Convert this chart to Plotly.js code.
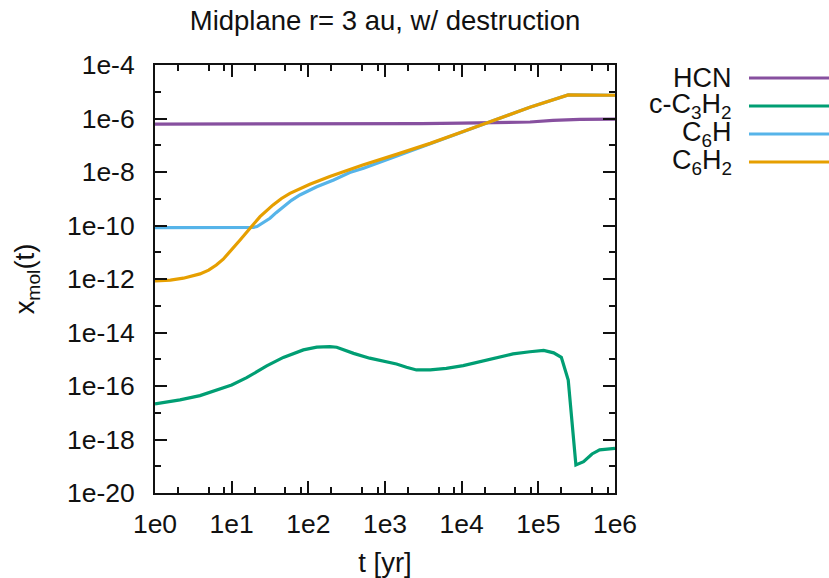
<!DOCTYPE html>
<html>
<head>
<meta charset="utf-8">
<script src="https://cdn.plot.ly/plotly-3.0.1.min.js"></script>
<style>
  html, body { margin: 0; padding: 0; background: #fff; }
  #chart { width: 829px; height: 578px; }
</style>
</head>
<body>
<div id="chart"></div>
<script>
// Time grid (years) and abundances, given as log10 values per species
const hcnT    = [1, 10, 100, 1000, 3000, 1e4, 3e4, 7.8e4, 1.55e5, 3.5e5, 1e6];
const hcnLog  = [-6.21, -6.21, -6.21, -6.20, -6.19, -6.17, -6.15, -6.13, -6.07, -6.03, -6.02];

const c3h2LogT = [0, 0.326, 0.587, 0.80, 1.0, 1.196, 1.457, 1.674, 1.935, 2.11, 2.28, 2.37,
                  2.59, 2.8, 2.98, 3.15, 3.28, 3.41, 3.59, 3.80, 4.02, 4.24, 4.46, 4.67,
                  4.89, 5.07, 5.20, 5.30, 5.39, 5.49, 5.59, 5.70, 5.80, 6.0];
const c3h2Log  = [-16.67, -16.52, -16.36, -16.15, -15.96, -15.69, -15.25, -14.93, -14.65, -14.55, -14.53, -14.55,
                  -14.78, -14.96, -15.07, -15.18, -15.30, -15.40, -15.40, -15.34, -15.24, -15.09, -14.93, -14.80,
                  -14.72, -14.67, -14.76, -14.93, -15.78, -18.95, -18.83, -18.54, -18.39, -18.33];

const c6hLogT = [0, 0.5, 1.0, 1.2, 1.28, 1.33, 1.42, 1.50, 1.58, 1.674, 1.78, 1.89, 2.0, 2.11, 2.33, 2.54, 2.72,
                 3.15, 3.59, 4.02, 4.46, 4.89, 5.39, 6.0];
const c6hLog  = [-10.08, -10.08, -10.08, -10.08, -10.07, -10.04, -9.88, -9.73, -9.52, -9.29, -9.06, -8.86, -8.70, -8.55,
                 -8.30, -8.02, -7.86, -7.40, -6.95, -6.50, -6.03, -5.58, -5.12, -5.13];

const c6h2LogT = [0, 0.2, 0.37, 0.587, 0.70, 0.80, 0.89, 0.98, 1.04, 1.11, 1.24, 1.37, 1.54, 1.65, 1.76, 1.89,
                  2.02, 2.28, 2.54, 2.71, 3.15, 3.59, 4.02, 4.46, 4.89, 5.39, 6.0];
const c6h2Log  = [-12.07, -12.04, -11.97, -11.81, -11.67, -11.48, -11.26, -10.98, -10.77, -10.54, -10.10, -9.67, -9.23,
                  -8.99, -8.80, -8.62, -8.46, -8.17, -7.90, -7.74, -7.34, -6.93, -6.49, -6.03, -5.58, -5.12, -5.13];

// Axis ticks
const xTickVals  = [1, 10, 100, 1000, 1e4, 1e5, 1e6];
const xTickText  = ['1e0', '1e1', '1e2', '1e3', '1e4', '1e5', '1e6'];
const xMinorMant = [2, 5, 8];
const yTickExp   = [-4, -6, -8, -10, -12, -14, -16, -18, -20];
const yMinorExp  = [-5, -7, -9, -11, -13, -15, -17, -19];

const names  = ['HCN', 'c-C<sub>3</sub>H<sub>2</sub>', 'C<sub>6</sub>H', 'C<sub>6</sub>H<sub>2</sub>'];
const colors = ['#87509f', '#009e73', '#56b4e9', '#e69f00'];

const pow10 = v => Math.pow(10, v);

const series = [
  { x: hcnT,                  y: hcnLog.map(pow10) },
  { x: c3h2LogT.map(pow10),   y: c3h2Log.map(pow10) },
  { x: c6hLogT.map(pow10),    y: c6hLog.map(pow10) },
  { x: c6h2LogT.map(pow10),   y: c6h2Log.map(pow10) }
];

const traces = series.map((s, i) => ({
  x: s.x, y: s.y, type: 'scatter', mode: 'lines', name: names[i],
  line: { color: colors[i], width: 3.2 },
  showlegend: false, hoverinfo: 'skip'
}));

const xMinor = [];
for (let k = 0; k < 6; k++) xMinorMant.forEach(m => xMinor.push(m * Math.pow(10, k)));

// Key on the right: right-aligned labels followed by a line sample
const keyRows = [78, 106, 134, 162];
const plotL = 155, plotR = 615, plotT = 65, plotB = 493;
const px2x = p => (p - plotL) / (plotR - plotL);
const px2y = p => (plotB - p) / (plotB - plotT);

const FAMILY = 'Liberation Sans, Arial, sans-serif';
const keyFont   = { family: FAMILY, size: 27, color: '#111' };
const tickFont  = { family: FAMILY, size: 26.5, color: '#111' };
const titleFont = { family: FAMILY, size: 27.5, color: '#111' };

const annotations = names.map((n, i) => ({
  text: n, xref: 'paper', yref: 'paper',
  x: px2x(734), y: px2y(keyRows[i]), xanchor: 'right', yanchor: 'middle',
  showarrow: false, font: keyFont
}));
const shapes = names.map((n, i) => ({
  type: 'line', xref: 'paper', yref: 'paper',
  x0: px2x(749), x1: px2x(829), y0: px2y(keyRows[i]), y1: px2y(keyRows[i]),
  line: { color: colors[i], width: 3.2 }
}));

const layout = {
  width: 829, height: 578,
  margin: { l: plotL, r: 829 - plotR, t: plotT, b: 578 - plotB },
  paper_bgcolor: '#fff', plot_bgcolor: '#fff',
  font: tickFont,
  title: { text: 'Midplane r= 3 au, w/ destruction', x: 0.5, xref: 'paper', xanchor: 'center',
           y: 1 - 20 / 578, yref: 'container', yanchor: 'middle', font: titleFont },
  xaxis: {
    type: 'log', range: [0, 6], tickmode: 'array', tickvals: xTickVals, ticktext: xTickText,
    ticks: 'inside', ticklen: 12, tickwidth: 2, tickcolor: '#111', ticklabelstandoff: 6,
    showline: true, linewidth: 2, linecolor: '#111', mirror: 'ticks',
    showgrid: false, zeroline: false,
    minor: { tickmode: 'array', tickvals: xMinor, ticks: 'inside', ticklen: 6, tickwidth: 2, tickcolor: '#111', showgrid: false },
    title: { text: 't [yr]', font: titleFont, standoff: 20 },
    tickfont: tickFont
  },
  yaxis: {
    type: 'log', range: [-20, -4], tickmode: 'array',
    tickvals: yTickExp.map(pow10), ticktext: yTickExp.map(e => '1e' + e),
    ticks: 'inside', ticklen: 12, tickwidth: 2, tickcolor: '#111', ticklabelstandoff: 13,
    showline: true, linewidth: 2, linecolor: '#111', mirror: 'ticks',
    showgrid: false, zeroline: false,
    minor: { tickmode: 'array', tickvals: yMinorExp.map(pow10), ticks: 'inside', ticklen: 6, tickwidth: 2, tickcolor: '#111', showgrid: false },
    title: { text: 'x<sub>mol</sub>(t)', font: titleFont, standoff: 24 },
    tickfont: tickFont
  },
  annotations: annotations,
  shapes: shapes
};

Plotly.newPlot('chart', traces, layout, { displayModeBar: false, staticPlot: true });
</script>
</body>
</html>
